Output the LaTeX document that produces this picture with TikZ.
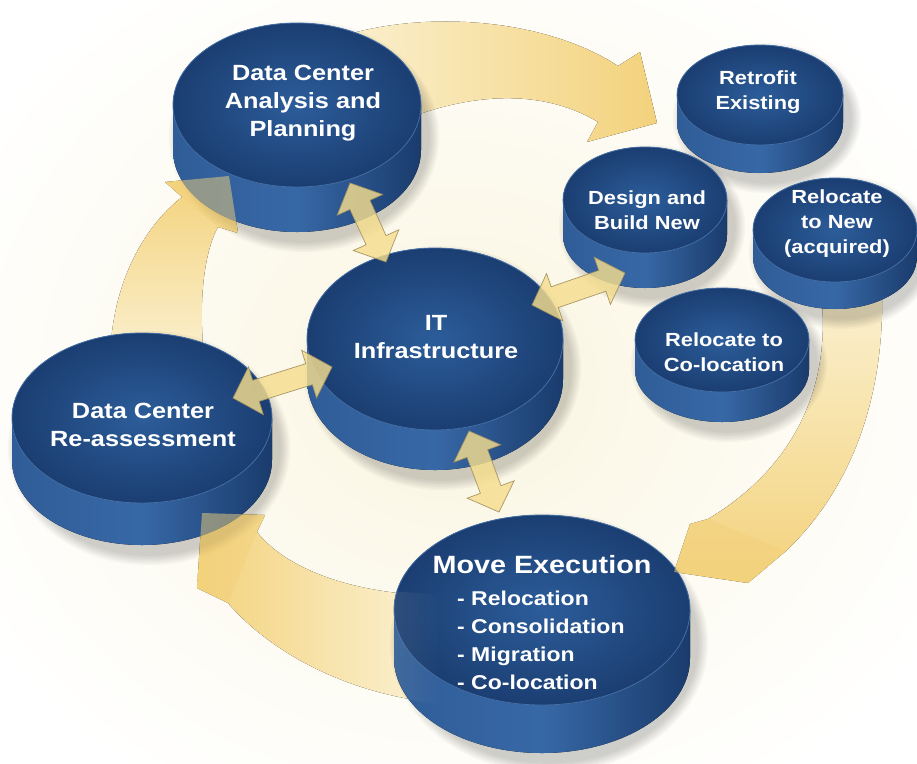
\documentclass[tikz,border=0pt]{standalone}
\usepackage{fontspec}
\setmainfont{Liberation Sans}[FakeStretch=1.15]
\usetikzlibrary{calc,shapes.geometric,fadings}
\definecolor{bgin}{HTML}{FAF5E0}
\definecolor{arcgold}{HTML}{F3D27C}
\definecolor{arcpale}{HTML}{FBF1D2}
\definecolor{topin}{HTML}{2C5D9A}
\definecolor{topout}{HTML}{1B3E72}
\definecolor{sidedark}{HTML}{1A3B6C}
\definecolor{sidelight}{HTML}{3768A6}
\definecolor{rimc}{HTML}{4470A8}
\definecolor{dafill}{HTML}{F5DE8E}
\definecolor{daline}{HTML}{A08D5C}
\tikzset{
 disktext/.style={text=white, font=\bfseries\fontsize{22}{28}\selectfont, align=center, inner sep=0pt},
 smalltext/.style={disktext, font=\bfseries\fontsize{19}{25}\selectfont},
 diskface/.style={ellipse, inner sep=0pt},
 dblarrow/.style={fill=dafill, fill opacity=0.82, draw=daline, line width=0.7pt, draw opacity=0.9, line join=miter},
 headover/.style={fill=arcgold, fill opacity=0.5},
}
\newcommand\disk[6]{%
 \foreach \k in {1,...,7}{\fill[black,opacity=0.028] ({#2+7},{#3+#6/2+9}) ellipse[x radius={#4pt+\k*1.6pt}, y radius={#5pt+#6pt/2+\k*1.6pt}];}
 \fill[left color=sidelight!75!sidedark, right color=sidedark, middle color=sidelight] ({#2-#4},#3) rectangle ({#2+#4},{#3+#6}) (#2,{#3+#6}) ellipse[x radius=#4pt, y radius=#5pt];
 \fill[inner color=topin, outer color=topout] (#2,#3) ellipse[x radius=#4pt, y radius=#5pt];
 \draw[rimc, line width=0.8pt] (#2,#3) ellipse[x radius=#4pt, y radius=#5pt];
 \node[diskface, minimum width={2*#4pt}, minimum height={2*#5pt}] (#1) at (#2,#3) {};
}
\newcommand\dblarr[2]{%
 \path ($(#1)!24pt!(#2)$) coordinate (tmpa) ($(#2)!24pt!(#1)$) coordinate (tmpb);
 \filldraw[dblarrow] (#1) -- ($(tmpa)!25pt!90:(#2)$) -- ($(tmpa)!11pt!90:(#2)$) -- ($(tmpb)!11pt!-90:(#1)$) -- ($(tmpb)!25pt!-90:(#1)$) -- (#2) -- ($(tmpb)!25pt!90:(#1)$) -- ($(tmpb)!11pt!90:(#1)$) -- ($(tmpa)!11pt!-90:(#2)$) -- ($(tmpa)!25pt!-90:(#2)$) -- cycle;
}
\begin{document}
\begin{tikzpicture}[x=1pt,y=-1pt]
\useasboundingbox (0,0) rectangle (917,763);
\fill[inner color=bgin, outer color=white] (-100,-100) rectangle (1017,863);
% big cycle arcs (behind the disks)
\fill[left color=arcpale, right color=arcgold] (330,40) .. controls (420,8) and (545,18) .. (618,66) -- (640,52) -- (657,123) -- (587,142) -- (598,122) .. controls (545,90) and (470,88) .. (380,130) -- cycle;
\fill[top color=arcpale, bottom color=arcgold] (820,285) -- (882,288) .. controls (885,400) and (850,490) .. (786,551) -- (748,583) -- (674,572) -- (690,524) -- (708,519) .. controls (790,470) and (835,390) .. (820,285) -- cycle;
\fill[right color=arcpale, left color=arcgold] (420,595) .. controls (340,590) and (283,565) .. (257,532) -- (265,515) -- (202,513) -- (197,588) -- (228,603) .. controls (270,652) and (345,692) .. (430,702) -- cycle;
\fill[bottom color=arcpale, top color=arcgold] (110,365) .. controls (110,290) and (140,230) .. (182,197) -- (165,182) -- (229,176) -- (238,233) -- (218,227) .. controls (205,250) and (197,300) .. (205,365) -- cycle;
% disks
\disk{plan}{297}{105}{124}{82}{45}
\disk{retro}{760}{95}{83}{50}{28}
\disk{design}{645}{200}{82}{53}{35}
\disk{relnew}{835}{230}{82}{52}{27}
\disk{it}{435}{339}{128}{91}{40}
\disk{coloc}{722}{340}{87}{52}{30}
\disk{reass}{142}{418}{130}{85}{42}
\disk{move}{542}{610}{148}{95}{48}
% faint tint of the bottom arc over the Move Execution disk
\begin{scope}
\clip (394,610) rectangle (690,658) (542,658) ellipse[x radius=148pt, y radius=95pt] (542,610) ellipse[x radius=148pt, y radius=95pt];
\fill[arcpale, fill opacity=0.4, path fading=east] (380,590) .. controls (340,590) and (283,565) .. (257,532) -- (228,603) .. controls (270,652) and (345,692) .. (440,705) -- (440,595) -- cycle;
\end{scope}
% arrow heads showing over the disks
\fill[headover] (182,197) -- (165,182) -- (229,176) -- (238,233) -- (218,227) -- cycle;
\fill[headover] (257,532) -- (265,515) -- (202,513) -- (197,588) -- (228,603) -- cycle;
\fill[headover] (786,551) -- (748,583) -- (674,572) -- (690,524) -- (708,519) -- cycle;
% double arrows
\coordinate (d1a) at (350,183); \coordinate (d1b) at (386,262);
\coordinate (d2a) at (532,305); \coordinate (d2b) at (625,273);
\coordinate (d3a) at (233,398); \coordinate (d3b) at (332,367);
\coordinate (d4a) at (469,431); \coordinate (d4b) at (499,512);
\dblarr{d1a}{d1b}
\dblarr{d2a}{d2b}
\dblarr{d3a}{d3b}
\dblarr{d4a}{d4b}
% texts
\node[disktext] (plantxt) at (303,103) {Data Center\\Analysis and\\Planning};
\node[smalltext] (retrotxt) at (758,92) {Retrofit\\Existing};
\node[smalltext] (designtxt) at (647,210) {Design and\\Build New};
\node[smalltext] (relnewtxt) at (837,224) {Relocate\\to New\\(acquired)};
\node[smalltext] (coloctxt) at (724,352) {Relocate to\\Co-location};
\node[disktext] (ittxt) at (436,337) {IT\\Infrastructure};
\node[disktext] (reasstxt) at (143,425) {Data Center\\Re-assessment};
\node[disktext, font=\bfseries\fontsize{25}{30}\selectfont] (movetitle) at (542,565) {Move Execution};
\node[disktext, font=\bfseries\fontsize{20}{28}\selectfont, align=left, anchor=west] (movelist) at (457,640) {- Relocation\\- Consolidation\\- Migration\\- Co-location};
\end{tikzpicture}
\end{document}
